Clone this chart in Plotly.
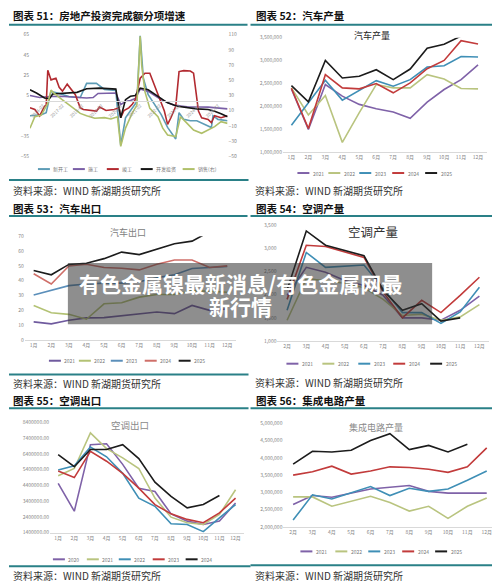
import plotly.graph_objects as go

# Browser body keeps its default 8px margin, so the figure is drawn 8px in from the page edges.
OFF = 8
W, H = 500 - OFF, 587 - OFF
def X(px): return (px - OFF) / W
def Y(py): return 1 - (py - OFF) / H

FONT = "Noto Sans CJK SC, Noto Sans, sans-serif"
TICK = dict(size=5, color="#858585", family=FONT)
TEAL = "#2a8087"

# ---------------- Chart 51 data (房地产投资完成额分项增速) ----------------
xkg_dates = ["2015-06","2016-01","2016-04","2016-07","2016-11","2017-06","2018-01","2018-05","2018-11",
             "2019-04","2019-11","2020-02","2020-05","2020-08","2020-10","2020-12","2021-02","2021-04",
             "2021-07","2021-11","2022-03","2022-07","2022-11","2022-12","2023-02","2023-05","2023-09",
             "2024-01","2024-10","2024-11","2025-02","2025-08"]
xkg_vals = [-15,-14,-12,9,7.4,4,3,17,17,11,10,-44,-17,-10,-5,-1,64,22,5.8,-4,-13.6,-26.5,-34.8,-38,
            -12,-18.6,-20,-20,-26.7,-15,-18.6,-20]

sg_dates = ["2015-06","2015-12","2016-06","2017-01","2018-05","2018-09","2018-12","2019-11","2020-02",
            "2020-05","2020-08","2020-11","2021-02","2021-07","2022-03","2022-11","2023-07","2024-08","2025-08"]
sg_vals = [5,3,4,4.2,2.5,3,7,7.4,-4,-1,0,2,11.3,9,0.9,-4.6,-6.2,-6.5,-8.2]

jg_dates = ["2015-06","2015-09","2015-12","2016-03","2016-04","2016-05","2016-07","2016-10","2016-12",
            "2017-02","2017-05","2017-07","2017-10","2018-01","2018-03","2018-11","2019-01","2019-05",
            "2019-10","2020-01","2020-02","2020-04","2020-07","2020-09","2020-11","2021-02","2021-05",
            "2021-08","2021-10","2022-01","2022-05","2022-07","2022-09","2022-12","2023-02","2023-05",
            "2023-09","2023-11","2024-02","2024-04","2024-08","2024-10","2024-12","2025-04","2025-08"]
jg_vals = [-7,-8.8,-15.2,-5.6,-4.6,30,20.4,22,13,9.3,16.2,12.3,5.8,-7.2,-8.8,-10.4,-6.5,-9.8,-8.8,-7.2,
           -17,-10,-7.2,-4,0.9,22,27,27,18.8,5.8,-10.4,-23.5,-17,-5.6,28.6,29.5,29.2,27,-10.4,-17,
           -18.6,-21.9,-15,-17,-15]

tz_dates = ["2015-06","2015-10","2016-03","2016-06","2016-08","2017-01","2017-11","2018-05","2019-01",
            "2019-11","2020-02","2020-05","2020-08","2020-11","2021-02","2021-07","2022-01","2022-07",
            "2023-01","2023-07","2024-01","2024-08","2024-12","2025-04","2025-08"]
tz_vals = [10.6,7.4,2.5,1.9,6.4,7.0,8.1,11.6,12.3,11.3,-17,0.9,4.2,5.0,12.3,10.6,4.2,-2.3,-5.6,-7.2,
           -8.2,-8.9,-10.5,-13,-16]

xs_dates = ["2015-06","2015-09","2016-01","2016-05","2016-07","2016-09","2017-01","2017-05","2017-09",
            "2018-01","2018-05","2018-10","2019-04","2019-08","2019-12","2020-02","2020-05","2020-08",
            "2020-09","2020-12","2021-02","2021-03","2021-05","2021-08","2022-01","2022-04","2022-07",
            "2022-12","2023-02","2023-03","2023-06","2023-11","2024-04","2024-08","2024-12","2025-04","2025-08"]
xs_vals = [-13.2,2,4.2,19.5,37,32.7,26,19.5,13,6.4,3.4,0,0.8,-1,2,-37,-13,2,6.4,17.3,108,70,35,13,2,
           -13,-22,-24,-5,2,-4.5,-15.5,-19.8,-15.5,-11,-4.5,-6.7]

c51_names = ["新开工", "施工", "竣工", "开发投资", "销售(右)"]
c51_colors = ["#5d9cb6", "#7a5fa6", "#b22a30", "#151515", "#b0c06a"]
c51_ticks = ["2016-02","2017-02","2018-02","2019-02","2020-02","2021-02","2022-02","2023-02","2024-02","2025-02"]

# ---------------- Chart 52 data (汽车产量) ----------------
months12 = ["1月","2月","3月","4月","5月","6月","7月","8月","9月","10月","11月","12月"]
months11 = months12[1:]
years_a = ["2021", "2022", "2023", "2024", "2025"]
car_prod_2021 = [2380000,1500000,2477000,2225000,2045000,1951000,1879000,1742000,2095000,2369000,2585000,2909000]
car_prod_2022 = [2405000,1814000,2239000,1216000,1865000,2477000,2405000,2405000,2693000,2599000,2391000,2383000]
car_prod_2023 = [1591000,2081000,2571000,2138000,2354000,2563000,2441000,2585000,2859000,2888000,3089000,3080000]
car_prod_2024 = [2398000,1519000,2693000,2405000,2383000,2499000,2297000,2513000,2823000,3003000,3435000,3363000]
car_prod_2025 = [2455000,2102000,3003000,2621000,2657000,2801000,2585000,2816000,3269000,3356000,3536000,None]

# ---------------- Chart 53 data (汽车出口) ----------------
car_exp_2021 = [12.2,10.9,13.3,14.9,15.1,16.2,17.8,18.9,17.8,23.3,20.0,21.0]
car_exp_2022 = [23.3,18.4,17.3,14.0,24.4,25.1,28.9,30.7,30.7,33.3,32.9,32.2]
car_exp_2023 = [30.4,33.3,36.7,37.8,38.4,38.4,39.3,42.0,44.0,48.2,48.9,49.6]
car_exp_2024 = [44.7,37.8,50.0,51.1,48.9,48.4,47.3,51.1,54.0,54.0,48.9,50.0]
car_exp_2025 = [46.9,44.0,51.0,51.8,54.9,59.3,57.6,61.1,64.9,66.7,73.1,None]

# ---------------- Chart 54 data (空调产量, 2月-12月) ----------------
ac_prod_2021 = [1986,2593,2486,2307,2200,1986,1500,1500,1450,1664,1971]
ac_prod_2022 = [1449,2350,2300,2250,2150,1900,1550,1580,1450,1521,1786]
ac_prod_2023 = [1664,2914,2593,2614,2643,2129,1614,1614,1379,1629,2164]
ac_prod_2024 = [1900,3071,3043,2929,2807,2057,1500,1879,1614,1986,2379]
ac_prod_2025 = [2100,3379,3071,2950,2843,2093,1664,1807,1429,1500,None]

# ---------------- Chart 55 data (空调出口) ----------------
years_b = ["2020", "2021", "2022", "2023", "2024"]
ac_exp_2020 = [4530000,2760000,6980000,7040000,5730000,4220000,4010000,2590000,2130000,1920000,2130000,3280000]
ac_exp_2021 = [5010000,5470000,7730000,6730000,6140000,5470000,3590000,2380000,2030000,1920000,2550000,4120000]
ac_exp_2022 = [5370000,5640000,6830000,6210000,5160000,3590000,3070000,1960000,1920000,1460000,2340000,3180000]
ac_exp_2023 = [5310000,4890000,6560000,5930000,5160000,4220000,3180000,2590000,2240000,2030000,2650000,3590000]
ac_exp_2024 = [6350000,5580000,6670000,6670000,6980000,6100000,4600000,3700000,2970000,3180000,3760000,None]

# ---------------- Chart 56 data (集成电路产量, 2月-12月) ----------------
ic_2021 = [2650000,2910000,2860000,2980000,3100000,3150000,3200000,3030000,2980000,2980000,2980000]
ic_2022 = [2870000,2870000,2600000,2740000,2890000,2710000,2460000,2600000,2250000,2600000,2840000]
ic_2023 = [2200000,2930000,2810000,2980000,3170000,2910000,3120000,3030000,3100000,3350000,3620000]
ic_2024 = [3500000,3600000,3760000,3530000,3620000,3740000,3720000,3670000,3580000,3740000,4290000]
ic_2025 = [3820000,4190000,4170000,4220000,4500000,4700000,4240000,4360000,4170000,4390000,None]

year_colors = ["#7f62a8", "#b9c47f", "#3f8fb6", "#c23b3b", "#1c1c1c"]
exp_colors = ["#6f5a9e", "#b3c274", "#5b8fba", "#cf6f69", "#1c1c1c"]

fig = go.Figure()

# ---- chart 51 traces ----
c51_series = [(xkg_dates, xkg_vals, "y"), (sg_dates, sg_vals, "y"), (jg_dates, jg_vals, "y"),
              (tz_dates, tz_vals, "y"), (xs_dates, xs_vals, "y2")]
for (d, v, ya), name, col in zip(c51_series, c51_names, c51_colors):
    fig.add_trace(go.Scatter(x=d, y=v, name=name, mode="lines", xaxis="x", yaxis=ya,
                             line=dict(color=col, width=1.6), showlegend=False))

def add_year_chart(cats, series, names, colors, xa, ya, width=1.6):
    for vals, name, col in zip(series, names, colors):
        fig.add_trace(go.Scatter(x=cats, y=vals, name=name, mode="lines", xaxis=xa, yaxis=ya,
                                 line=dict(color=col, width=width), showlegend=False,
                                 connectgaps=False))

add_year_chart(months12, [car_prod_2021, car_prod_2022, car_prod_2023, car_prod_2024, car_prod_2025],
               years_a, year_colors, "x2", "y3")
add_year_chart(months12, [car_exp_2021, car_exp_2022, car_exp_2023, car_exp_2024, car_exp_2025],
               years_a, exp_colors, "x3", "y4")
add_year_chart(months11, [ac_prod_2021, ac_prod_2022, ac_prod_2023, ac_prod_2024, ac_prod_2025],
               years_a, year_colors, "x4", "y5")
add_year_chart(months12, [ac_exp_2020, ac_exp_2021, ac_exp_2022, ac_exp_2023, ac_exp_2024],
               years_b, year_colors, "x5", "y6")
add_year_chart(months11, [ic_2021, ic_2022, ic_2023, ic_2024, ic_2025],
               years_a, year_colors, "x6", "y7")

# ---- axes ----
def yax(domain, rng, tickvals, anchor, fmt=None, **kw):
    d = dict(domain=domain, range=rng, tickvals=tickvals, anchor=anchor, showgrid=False,
             zeroline=False, showline=False, ticks="", tickfont=TICK, fixedrange=True)
    if fmt:
        d["tickformat"] = fmt
    d.update(kw)
    return d

def xcat(domain, n, anchor):
    return dict(domain=domain, type="category", range=[-0.5, n - 0.5], anchor=anchor,
                showgrid=False, zeroline=False, showline=True, linecolor="#d9d9d9", linewidth=1,
                ticks="", tickfont=TICK, tickangle=0)

# chart 51
y51_dom = [Y(154), Y(31)]
l_rng = [-55, 65]
zero_pos = y51_dom[0] + (0 - l_rng[0]) / (l_rng[1] - l_rng[0]) * (y51_dom[1] - y51_dom[0])
layout_axes = dict(
    xaxis=dict(domain=[X(29), X(227)], type="date", range=["2015-06-01", "2025-08-01"],
               anchor="free", position=zero_pos, showline=True, linecolor="#d9d9d9", linewidth=1,
               showgrid=False, zeroline=False, ticks="", tickvals=c51_ticks, ticktext=c51_ticks,
               tickangle=-45, tickfont=dict(size=4.5, color="#9a9a9a", family=FONT)),
    yaxis=yax(y51_dom, l_rng, [65, 45, 25, 5, -35, -55], "x"),
    yaxis2=yax(y51_dom, [-50, 110], list(range(-50, 111, 20)), "x", overlaying="y", side="right"),
    xaxis2=xcat([X(282.5), X(486.5)], 12, "y3"),
    yaxis3=yax([Y(150), Y(34)], [1000000, 3500000], list(range(1000000, 3500001, 500000)), "x2", ",d"),
    xaxis3=xcat([X(23.9), X(235.5)], 12, "y4"),
    yaxis4=yax([Y(340), Y(235)], [0, 70], list(range(0, 71, 10)), "x3"),
    xaxis4=xcat([X(277.0), X(489.0)], 11, "y5"),
    yaxis5=yax([Y(341), Y(224)], [1000, 3500], list(range(1000, 3501, 500)), "x4", ",d"),
    xaxis5=xcat([X(49.2), X(243.1)], 12, "y6"),
    yaxis6=yax([Y(535), Y(423.3)], [1400000, 8400000], list(range(1400000, 8400001, 1000000)), "x5", ".2f"),
    xaxis6=xcat([X(283), X(496.4)], 11, "y7"),
    yaxis7=yax([Y(529.3), Y(424.3)], [2000000, 5000000], list(range(2000000, 5000001, 500000)), "x6", ",d"),
)

shapes = []
annotations = []

def text(px, py, s, size, color="#333", bold=False, xanchor="left"):
    annotations.append(dict(x=X(px), y=Y(py), xref="paper", yref="paper", text=("<b>%s</b>" % s) if bold else s,
                            showarrow=False, xanchor=xanchor, yanchor="middle",
                            font=dict(size=size, color=color, family=FONT)))

def hline(x0, x1, y, color=TEAL, width=2):
    shapes.append(dict(type="line", xref="paper", yref="paper", x0=X(max(x0, OFF)), x1=X(x1), y0=Y(y), y1=Y(y),
                       line=dict(color=color, width=width), layer="above"))

# headers + rules + sources
text(10, 12, "图表 51：房地产投资完成额分项增速", 10.5, "#111", True)
text(253, 12, "图表 52：汽车产量", 10.5, "#111", True)
text(10, 207, "图表 53：汽车出口", 10.5, "#111", True)
text(253, 207, "图表 54：空调产量", 10.5, "#111", True)
text(10, 401, "图表 55：空调出口", 10.5, "#111", True)
text(253, 401, "图表 56：集成电路产量", 10.5, "#111", True)
for (a, b, y) in [(5, 247, 21), (250, 498, 21), (0, 247, 214.5), (250, 497, 214.5), (3, 248, 409), (250, 497, 409)]:
    hline(a, b, y)
for (a, b, y) in [(0, 248, 178), (0, 248, 375), (3, 250, 569), (250, 497, 568)]:
    hline(a, b, y)
for (x, y) in [(10, 188.5), (252, 189), (10, 384), (252, 383), (10, 578.5), (252, 578.5)]:
    text(x, y, "资料来源：WIND 新湖期货研究所", 10, "#333")

# chart inner titles
text(372, 32, "汽车产量", 9, "#222", False, "center")
text(127, 231, "汽车出口", 9, "#808080", False, "center")
text(373, 230, "空调产量", 12.5, "#333", False, "center")
text(129, 426, "空调出口", 9.5, "#8a8a8a", False, "center")
text(376, 429, "集成电路产量", 9, "#8a8a8a", False, "center")

# legends
def legend(names, colors, starts, y, fs=5, lw=12):
    for n, c, s in zip(names, colors, starts):
        shapes.append(dict(type="line", xref="paper", yref="paper", x0=X(s), x1=X(s + lw), y0=Y(y), y1=Y(y),
                           line=dict(color=c, width=2)))
        text(s + lw + 1.5, y, n, fs, "#777")

legend(c51_names, c51_colors, [37, 72, 106, 140, 182], 167)
legend(years_a, year_colors, [297, 328, 359, 392, 425], 171)
legend(years_a, exp_colors, [48, 78, 110, 144, 178], 361)
legend(years_a, year_colors, [286, 322, 358, 393, 430], 364)
legend(years_b, year_colors, [52, 86, 118, 152, 185], 562)
legend(years_a, year_colors, [300, 335, 368, 402, 435], 554)

# overlay banner
shapes.append(dict(type="rect", xref="paper", yref="paper", x0=X(67), x1=X(432), y0=Y(324), y1=Y(262),
                   fillcolor="rgba(50,50,50,0.55)", line=dict(width=0), layer="above"))
text(240, 282, "有色金属镍最新消息/有色金属网最", 21, "#ffffff", True, "center")
text(240, 306, "新行情", 21, "#ffffff", True, "center")

fig.update_layout(width=W, height=H, margin=dict(l=0, r=0, t=0, b=0), paper_bgcolor="white",
                  plot_bgcolor="rgba(0,0,0,0)", showlegend=False, shapes=shapes, annotations=annotations,
                  font=dict(family=FONT), **layout_axes)

fig.write_html("out.html", config=dict(displayModeBar=False))
